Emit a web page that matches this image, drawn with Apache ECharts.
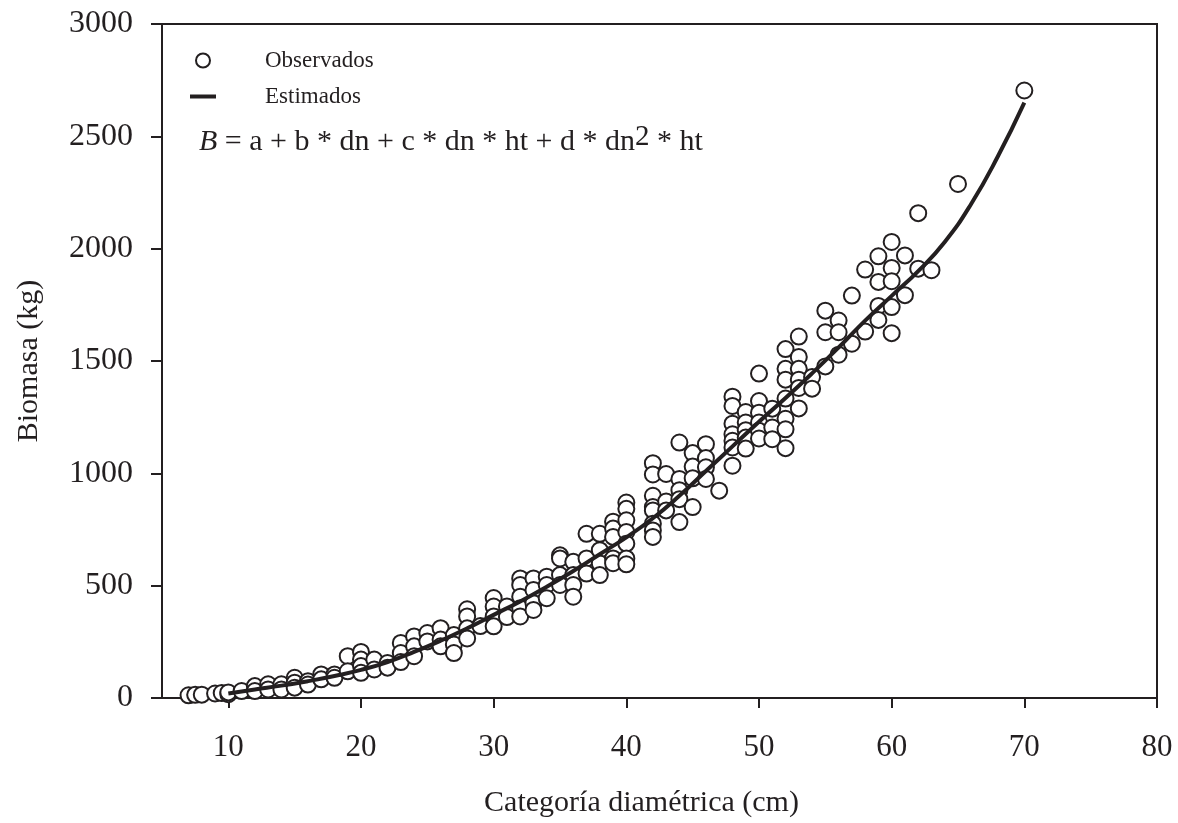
<!DOCTYPE html>
<html>
<head>
<meta charset="utf-8">
<script src="https://cdn.jsdelivr.net/npm/echarts@6/dist/echarts.min.js"></script>
<style>
  html, body { margin: 0; padding: 0; background: #fff; }
  #chart { width: 1178px; height: 823px; }
</style>
</head>
<body>
<div id="chart"></div>
<script>
// categorias diametricas observadas y la biomasa de cada arbol
const categorias = [7, 7.5, 8, 9, 9.5, 10, 11, 12, 13, 14, 15, 16, 17, 18, 19, 20, 21, 22, 23, 24, 25, 26, 27, 28, 29, 30,
  31, 32, 33, 34, 35, 36, 37, 38, 39, 40, 42, 43, 44, 45, 46, 47, 48, 49, 50, 51, 52, 53, 54, 55, 56, 57, 58, 59, 60,
  61, 62, 63, 65, 70]
const biomasaObservada = [
  [12], [14], [15], [20], [22], [17, 25], [31], [53, 31], [61, 38], [61, 38],
  [90, 68, 46], [75, 60], [105, 83], [105, 90], [186, 119], [205, 171, 142, 112], [171, 127], [156, 135],
  [245, 200, 160], [274, 230, 186], [289, 252], [311, 260, 230], [280, 238, 200], [395, 363, 310, 265], [320],
  [445, 407, 363, 319], [407, 360], [532, 503, 451, 400, 363], [532, 481, 422, 392], [540, 503, 444],
  [635, 621, 547, 503], [606, 547, 503, 451], [731, 621, 554], [731, 658, 599, 547], [785, 754, 717, 621, 600],
  [870, 842, 791, 739, 687, 621, 595], [1045, 995, 900, 850, 835, 776, 746, 717], [997, 875, 835],
  [1137, 975, 925, 885, 783], [1090, 1030, 978, 850], [1130, 1068, 1027, 975], [923],
  [1341, 1300, 1221, 1174, 1145, 1115, 1034], [1273, 1226, 1192, 1159, 1110], [1444, 1322, 1270, 1226, 1189, 1155],
  [1288, 1204, 1152], [1553, 1465, 1417, 1333, 1243, 1196, 1112], [1609, 1518, 1465, 1417, 1380, 1289],
  [1429, 1377], [1724, 1628, 1476], [1680, 1628, 1528], [1791, 1577], [1907, 1631], [1966, 1852, 1745, 1683],
  [2030, 1914, 1855, 1740, 1624], [1970, 1793], [2158, 1911], [1904], [2288], [2704]
]

// curva estimada por el modelo
const dnEstimado = [10, 12, 14, 16, 18, 20, 22, 24, 26, 28, 30, 32, 34, 36, 38, 40, 42, 44, 46, 48, 50,
  52, 54, 56, 58, 60, 62, 64, 66, 68, 70]
const biomasaEstimada = [20, 38, 55, 75, 98, 125, 160, 205, 255, 310, 370, 430, 495, 565, 640, 715, 800, 900,
  1010, 1120, 1230, 1335, 1445, 1560, 1680, 1790, 1900, 2030, 2200, 2410, 2650]

const xTicks = [10, 20, 30, 40, 50, 60, 70, 80]

const ink = '#231f20'
const serif = '"Liberation Serif", "Times New Roman", serif'

const chart = echarts.init(document.getElementById('chart'))

const puntos = []
categorias.forEach((dn, i) => {
  biomasaObservada[i].forEach(b => puntos.push([dn, b]))
})

const option = {
  animation: false,
  backgroundColor: '#fff',
  textStyle: { fontFamily: serif, color: ink },
  grid: {
    left: 162,
    right: 21,
    top: 24,
    bottom: 121,
    show: true,
    borderColor: ink,
    borderWidth: 2,
    backgroundColor: 'transparent'
  },
  legend: {
    orient: 'vertical',
    left: 190,
    top: 49,
    padding: 0,
    itemWidth: 26,
    itemHeight: 14,
    itemGap: 13,
    selectedMode: false,
    textStyle: {
      fontFamily: serif,
      fontSize: 23,
      color: ink,
      padding: [0, 0, 0, 44]
    },
    data: [
      { name: 'Observados', icon: 'circle' },
      { name: 'Estimados', icon: 'path://M0,0H26V4H0Z', itemStyle: { color: ink, borderWidth: 0 } }
    ]
  },
  xAxis: {
    type: 'value',
    min: 5,
    max: 80,
    name: 'Categoría diamétrica (cm)',
    nameLocation: 'middle',
    nameGap: 90,
    nameTextStyle: { fontFamily: serif, fontSize: 30, color: ink, padding: [0, 36, 0, 0] },
    axisLine: { lineStyle: { color: ink, width: 2 } },
    axisTick: { customValues: xTicks, length: 10, lineStyle: { color: ink, width: 2 } },
    axisLabel: { customValues: xTicks, fontFamily: serif, fontSize: 31, color: ink, margin: 34 },
    splitLine: { show: false }
  },
  yAxis: {
    type: 'value',
    min: 0,
    max: 3000,
    interval: 500,
    name: 'Biomasa (kg)',
    nameLocation: 'middle',
    nameGap: 118,
    nameTextStyle: { fontFamily: serif, fontSize: 30, color: ink },
    axisLine: { lineStyle: { color: ink, width: 2 } },
    axisTick: { length: 11, lineStyle: { color: ink, width: 2 } },
    axisLabel: { fontFamily: serif, fontSize: 32, color: ink, margin: 29, formatter: v => String(v) },
    splitLine: { show: false }
  },
  graphic: [
    {
      type: 'text',
      left: 199,
      top: 123,
      style: {
        text: '{i|B} = a + b * dn + c * dn * ht + d * dn{s|2} * ht',
        font: '30px ' + serif,
        fill: ink,
        rich: {
          i: { fontStyle: 'italic', fontSize: 30, fontFamily: serif, lineHeight: 38 },
          s: { fontSize: 29, fontFamily: serif, lineHeight: 18, verticalAlign: 'top' }
        },
        lineHeight: 38
      }
    }
  ],
  series: [
    {
      name: 'Observados',
      type: 'scatter',
      symbol: 'circle',
      symbolSize: 16,
      itemStyle: { color: '#fff', borderColor: ink, borderWidth: 2, opacity: 1 },
      data: puntos,
      z: 2
    },
    {
      name: 'Estimados',
      type: 'line',
      smooth: true,
      showSymbol: false,
      symbol: 'none',
      lineStyle: { color: ink, width: 4 },
      itemStyle: { color: ink },
      data: dnEstimado.map((dn, i) => [dn, biomasaEstimada[i]]),
      z: 3
    }
  ]
}

chart.setOption(option)

window.addEventListener('resize', () => chart.resize())
</script>
</body>
</html>
